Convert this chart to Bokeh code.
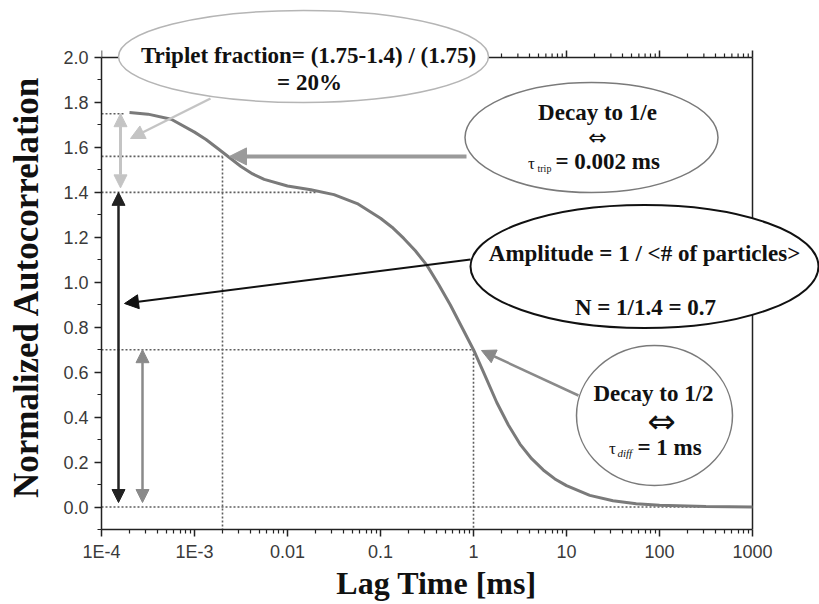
import math
from bokeh.plotting import figure
from bokeh.models import Range1d, FixedTicker, Arrow, NormalHead, Label, CustomJSTickFormatter, NumeralTickFormatter
from bokeh.embed import file_html
from bokeh.resources import INLINE
from bokeh.core.properties import value

# ---------------- data ----------------
lag_ms = [2.0e-4, 3.16e-4, 5.62e-4, 1.0e-3, 1.33e-3, 1.78e-3, 2.37e-3, 3.16e-3, 4.22e-3, 5.62e-3,
          0.01, 0.0178, 0.0316, 0.0562, 0.1, 0.133, 0.178, 0.237, 0.316, 0.422, 0.562, 0.75,
          1.0, 1.33, 1.78, 2.37, 3.16, 4.22, 5.62, 7.5, 10.0, 17.8, 31.6, 56.2, 100.0, 316.0, 1000.0]
g_norm = [1.755, 1.748, 1.725, 1.668, 1.635, 1.595, 1.555, 1.515, 1.482, 1.458,
          1.428, 1.412, 1.390, 1.350, 1.285, 1.245, 1.195, 1.140, 1.075, 0.990, 0.900, 0.800,
          0.700, 0.585, 0.465, 0.365, 0.280, 0.215, 0.165, 0.125, 0.095, 0.052, 0.028, 0.015, 0.008, 0.002, 0.0]

x_ticks = [1e-4, 1e-3, 0.01, 0.1, 1, 10, 100, 1000]
x_tick_labels = ["1E-4", "1E-3", "0.01", "0.1", "1", "10", "100", "1000"]
y_ticks = [0.0, 0.2, 0.4, 0.6, 0.8, 1.0, 1.2, 1.4, 1.6, 1.8, 2.0]
y_minor = [-0.1, 0.1, 0.3, 0.5, 0.7, 0.9, 1.1, 1.3, 1.5, 1.7, 1.9]

g_start = 1.75      # initial amplitude
g_plateau = 1.40    # plateau (1/N)
g_1e = 1.56         # level at triplet decay time
g_half = 0.70       # half of plateau
tau_trip = 0.002    # ms
tau_diff = 1.0      # ms

# ---------------- layout helpers (pixel -> data) ----------------
PX_DEC = 93.0       # pixels per decade
PX_UNIT = 224.76    # pixels per y unit
def sx(px):
    return 10 ** (-4 + (px - 101) / PX_DEC)
def sy(py):
    return 2.0 - (py - 57) / PX_UNIT

p = figure(width=819, height=604, x_axis_type="log",
           x_range=Range1d(1e-4, sx(819)), y_range=Range1d(-0.1, sy(0)),
           output_backend="svg", toolbar_location=None,
           min_border_left=101, min_border_right=0, min_border_top=0, min_border_bottom=75)
p.outline_line_color = None
p.grid.visible = False
p.background_fill_color = "white"
p.border_fill_color = "white"

minor_x = [k * 10 ** e for e in range(-4, 3) for k in range(2, 10)]
xa = p.xaxis[0]
xa.ticker = FixedTicker(ticks=x_ticks, minor_ticks=minor_x)
xa.bounds = (1e-4, 1000)
xa.formatter = CustomJSTickFormatter(args=dict(tv=x_ticks, tl=x_tick_labels), code="""
for (let i = 0; i < tv.length; i++) {
  if (Math.abs(Math.log10(tv[i]) - Math.log10(tick)) < 1e-6) return tl[i];
}
return '';
""")
ya = p.yaxis[0]
ya.ticker = FixedTicker(ticks=y_ticks, minor_ticks=y_minor)
ya.bounds = (-0.1, 2.0)
ya.formatter = NumeralTickFormatter(format="0.0")
for ax in (xa, ya):
    ax.axis_line_color = "#222222"
    ax.axis_line_width = 1.5
    ax.major_tick_line_color = "#222222"
    ax.major_tick_line_width = 1.5
    ax.minor_tick_line_color = "#222222"
    ax.minor_tick_line_width = 1.2
    ax.major_tick_out = 7
    ax.major_tick_in = 0
    ax.minor_tick_out = 4
    ax.minor_tick_in = 0
    ax.major_label_text_font = "Liberation Sans"
    ax.major_label_text_font_size = "18px"
    ax.major_label_text_color = "#3a3a3a"
    ax.major_label_standoff = 6
    ax.axis_label_text_font = "Liberation Serif"
    ax.axis_label_text_font_style = "bold"
    ax.axis_label_text_color = "#111111"
NBSP = "\u00a0"
# trailing non-breaking spaces shift the centred titles to sit over the data bounds
xa.axis_label = "Lag Time [ms]" + NBSP * 6
xa.axis_label_text_font_size = "32px"
xa.major_label_standoff = 5
xa.axis_label_standoff = 0
ya.axis_label = "Normalized Autocorrelation" + NBSP * 5
ya.axis_label_text_font_size = "35px"
ya.axis_label_standoff = 14

# frame: top and right lines, top ticks
p.segment(x0=[1e-4, 1000], y0=[2.0, -0.1], x1=[1000, 1000], y1=[2.0, 2.0],
          line_color="#222222", line_width=1.5)
p.segment(x0=x_ticks, y0=[2.0] * len(x_ticks), x1=x_ticks, y1=[2.0 + 7 / PX_UNIT] * len(x_ticks),
          line_color="#222222", line_width=1.5)
p.segment(x0=minor_x, y0=[2.0] * len(minor_x), x1=minor_x, y1=[2.0 + 4 / PX_UNIT] * len(minor_x),
          line_color="#222222", line_width=1.2)

# dotted guide lines
dot = dict(line_color="#5f5f5f", line_width=1.6, line_dash="2 2")
p.segment(x0=[1e-4, 1e-4, 1e-4, 1e-4, 1e-4],
          y0=[g_start, g_1e, g_plateau, g_half, 0.0],
          x1=[sx(125), tau_trip, sx(315), tau_diff, sx(700)],
          y1=[g_start, g_1e, g_plateau, g_half, 0.0], **dot)
p.segment(x0=[tau_trip, tau_diff], y0=[g_1e, g_half], x1=[tau_trip, tau_diff], y1=[-0.1, -0.1], **dot)

# the autocorrelation curve
p.line(lag_ms, g_norm, line_color="#7a7a7a", line_width=3)

# ellipses (white filled, covering frame lines)
ell_px = [(303, 56, 370, 92, "#b5b5b5", 1.5),
          (591, 137, 253, 110, "#7a7a7a", 1.5),
          (644, 266, 348, 123, "#111111", 2.0),
          (654, 415, 156, 140, "#7a7a7a", 1.5)]
for cx, cy, w, h, col, lw in ell_px:
    p.ellipse(x=[sx(cx)], y=[sy(cy)], width=w, height=h, width_units="screen", height_units="screen",
              fill_color="white", line_color=col, line_width=lw)

def arrow(x0, y0, x1, y1, col, lw, size, both=False):
    head = lambda: NormalHead(size=size, fill_color=col, line_color=col, line_width=1)
    a = Arrow(x_start=x0, y_start=y0, x_end=x1, y_end=y1, end=head(),
              start=head() if both else None, line_color=col, line_width=lw)
    p.add_layout(a)

# double arrows on the left
arrow(sx(120), g_start, sx(120), g_plateau + 0.02, "#c4c4c4", 3, 13, both=True)
arrow(sx(118), g_plateau, sx(118), 0.02, "#222222", 2.5, 13, both=True)
arrow(sx(142), g_half, sx(142), 0.02, "#8a8a8a", 2.5, 13, both=True)
# pointer arrows
arrow(sx(210), sy(98), sx(130), sy(138), "#c4c4c4", 2.5, 14)
arrow(sx(466), g_1e, sx(229), g_1e, "#9a9a9a", 4, 17)
arrow(sx(470), sy(259), sx(124), sy(303), "#111111", 2, 14)
arrow(sx(578), sy(395), sx(481), sy(350), "#8a8a8a", 2.5, 14)

def label(px, py, text, size, align="center", bold=True, font="Liberation Serif", style=None, col="#111111"):
    lab = Label(x=sx(px), y=sy(py), text=text, text_font=font, text_font_size=f"{size}px",
                text_font_style=("bold" if bold else "normal") if style is None else style,
                text_align=align, text_baseline="middle", text_color=col)
    p.add_layout(lab)

label(308, 55, "Triplet fraction= (1.75-1.4) / (1.75)", 23)
label(309, 82, "= 20%", 23)
label(597, 112, "Decay to 1/e", 23)
label(597, 137, "⇔", 22, bold=False, font="DejaVu Sans")
label(531, 163, "τ", 17, bold=False)
label(537, 168, "trip", 10, align="left", bold=False)
label(555, 161, "= 0.002 ms", 23, align="left")
label(644, 253, "Amplitude = 1 / <# of particles>", 23)
label(645, 307, "N = 1/1.4 = 0.7", 23)
label(653, 393, "Decay to 1/2", 23)
label(661, 420, "⇔", 34, bold=False, font="DejaVu Sans")
label(612, 448, "τ", 17, bold=False)
label(617, 452, "diff", 11, align="left", style="italic")
label(637, 447, "= 1 ms", 23, align="left")

with open("out.html", "w", encoding="utf-8") as f:
    f.write(file_html(p, INLINE))
